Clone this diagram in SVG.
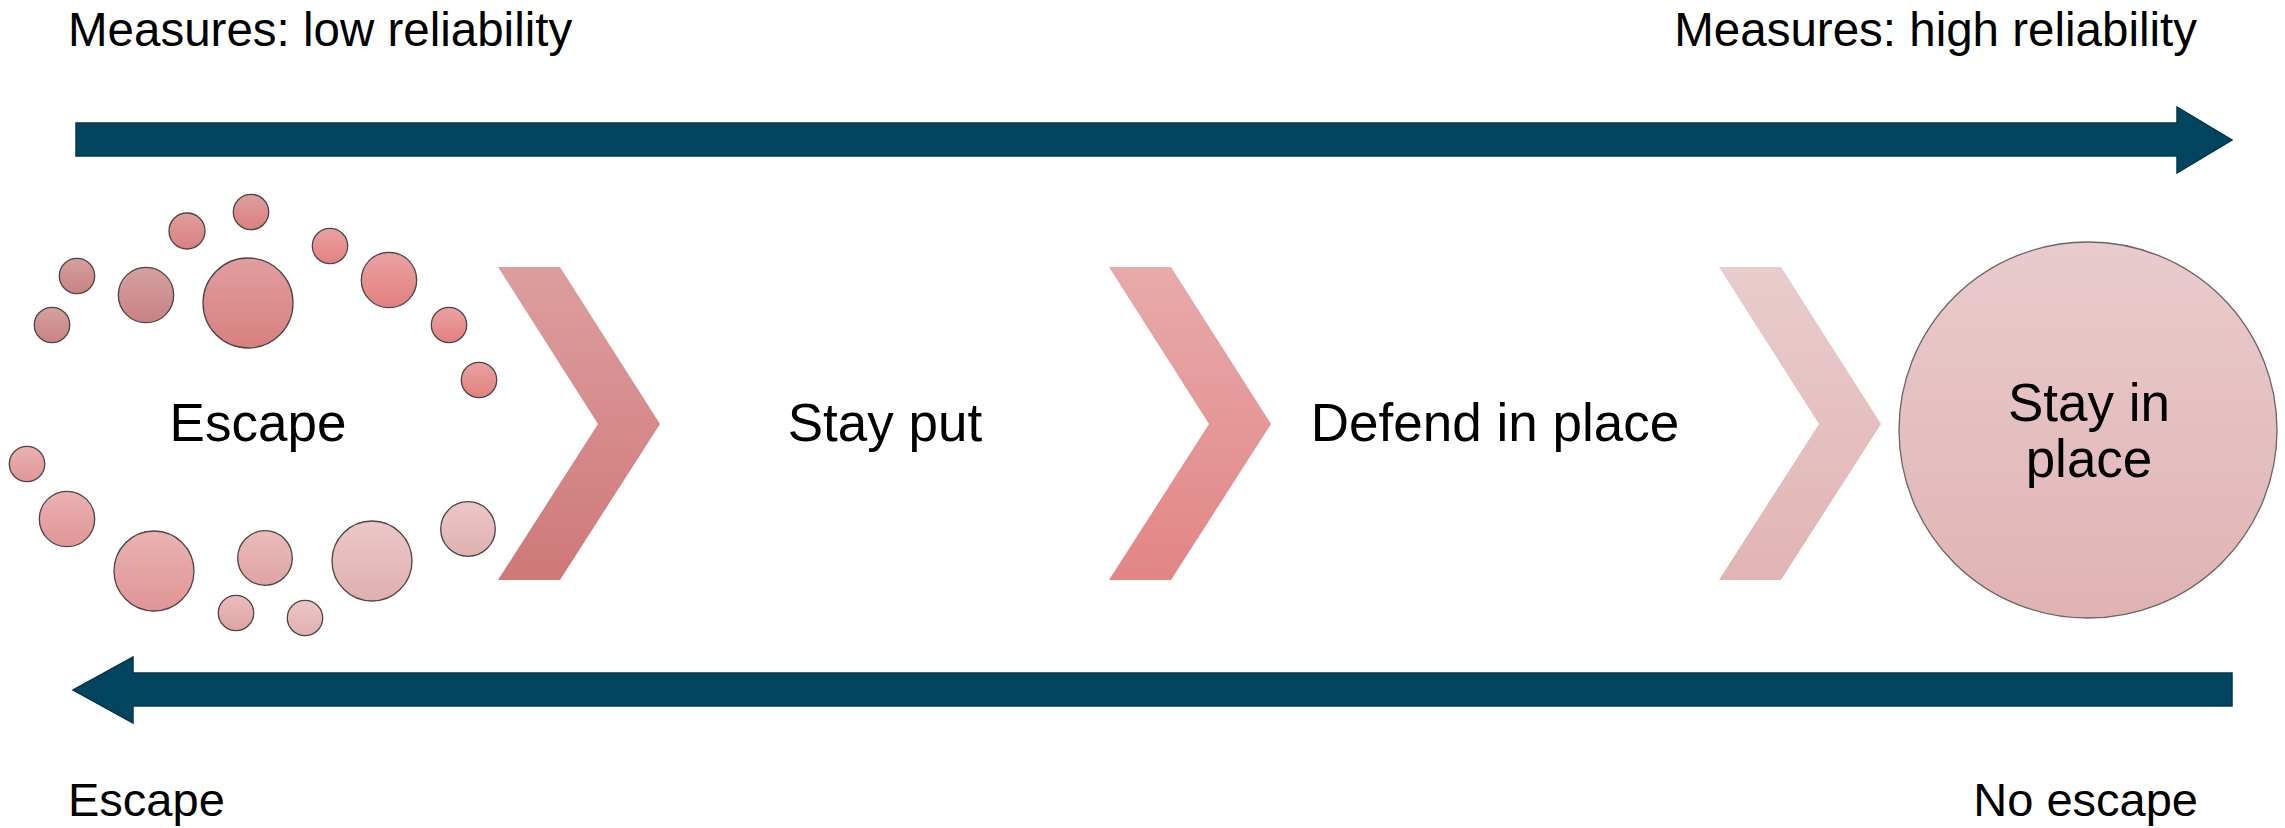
<svg xmlns="http://www.w3.org/2000/svg" width="2285" height="828" viewBox="0 0 2285 828">
<style>
text{font-family:"Liberation Sans",Arial,sans-serif;fill:#000}
.lbl{font-size:47.5px}
.lb2{font-size:47px}
.mid{font-size:53px;text-anchor:middle}
.dot{stroke:#4e4444;stroke-width:1.3}
.bar{fill:#03445f;stroke:#02384f;stroke-width:1.5}
</style>
<defs>
<linearGradient id="gA" x1="0" y1="0" x2="0" y2="1"><stop offset="0" stop-color="#d6a0a0"/><stop offset="1" stop-color="#c98282"/></linearGradient>
<linearGradient id="gB" x1="0" y1="0" x2="0" y2="1"><stop offset="0" stop-color="#e09e9e"/><stop offset="1" stop-color="#d98080"/></linearGradient>
<linearGradient id="gC" x1="0" y1="0" x2="0" y2="1"><stop offset="0" stop-color="#eaa2a2"/><stop offset="1" stop-color="#e28080"/></linearGradient>
<linearGradient id="gD" x1="0" y1="0" x2="0" y2="1"><stop offset="0" stop-color="#ebb2b2"/><stop offset="1" stop-color="#e09595"/></linearGradient>
<linearGradient id="gE" x1="0" y1="0" x2="0" y2="1"><stop offset="0" stop-color="#ebbcbc"/><stop offset="1" stop-color="#dfa3a3"/></linearGradient>
<linearGradient id="gF" x1="0" y1="0" x2="0" y2="1"><stop offset="0" stop-color="#ecc7c7"/><stop offset="1" stop-color="#dfb0b0"/></linearGradient>
<linearGradient id="ch1" x1="0" y1="0" x2="0" y2="1"><stop offset="0" stop-color="#dd9e9e"/><stop offset="1" stop-color="#cf7878"/></linearGradient>
<linearGradient id="ch2" x1="0" y1="0" x2="0" y2="1"><stop offset="0" stop-color="#e8aaaa"/><stop offset="1" stop-color="#e28585"/></linearGradient>
<linearGradient id="ch3" x1="0" y1="0" x2="0" y2="1"><stop offset="0" stop-color="#e9cccd"/><stop offset="1" stop-color="#e1b4b4"/></linearGradient>
<linearGradient id="big" x1="0" y1="0" x2="0" y2="1"><stop offset="0" stop-color="#e9cbcd"/><stop offset="1" stop-color="#e0b3b3"/></linearGradient>
</defs>

<g id="labels">
<text class="lbl" x="68" y="46">Measures: low reliability</text>
<text class="lbl" x="2197" y="46" text-anchor="end">Measures: high reliability</text>
<text class="lb2" x="68" y="816">Escape</text>
<text class="lb2" x="2198" y="816" text-anchor="end">No escape</text>
</g>

<g id="connectors">
<polygon class="bar" points="76,123 2177,123 2177,107 2232,140 2177,173 2177,156 76,156"/>
<polygon class="bar" points="2232,673 133,673 133,657 73,690 133,723 133,706 2232,706"/>
</g>

<g id="escape">
<circle class="dot" cx="251" cy="212" r="17.7" fill="url(#gB)"/>
<circle class="dot" cx="187" cy="231" r="18" fill="url(#gB)"/>
<circle class="dot" cx="330" cy="246" r="17.7" fill="url(#gC)"/>
<circle class="dot" cx="77" cy="276" r="17.7" fill="url(#gA)"/>
<circle class="dot" cx="146" cy="295" r="27.7" fill="url(#gA)"/>
<circle class="dot" cx="248" cy="303" r="45" fill="url(#gB)"/>
<circle class="dot" cx="389" cy="280" r="27.7" fill="url(#gC)"/>
<circle class="dot" cx="52" cy="325" r="17.7" fill="url(#gA)"/>
<circle class="dot" cx="449" cy="325" r="17.7" fill="url(#gC)"/>
<circle class="dot" cx="479" cy="380" r="17.7" fill="url(#gC)"/>
<circle class="dot" cx="27" cy="464" r="17.7" fill="url(#gD)"/>
<circle class="dot" cx="67" cy="519" r="27.7" fill="url(#gD)"/>
<circle class="dot" cx="154" cy="571" r="40" fill="url(#gD)"/>
<circle class="dot" cx="265" cy="558" r="27.3" fill="url(#gE)"/>
<circle class="dot" cx="372" cy="561" r="40" fill="url(#gF)"/>
<circle class="dot" cx="468" cy="529" r="27.3" fill="url(#gF)"/>
<circle class="dot" cx="236" cy="613" r="17.7" fill="url(#gE)"/>
<circle class="dot" cx="305" cy="618" r="17.7" fill="url(#gF)"/>
<text class="mid" x="258" y="441">Escape</text>
</g>

<g id="chevron1"><polygon points="498,267 560,267 660,424 560,580 498,580 598,424" fill="url(#ch1)"/></g>
<g id="stay-put"><text class="mid" x="885" y="441">Stay put</text></g>
<g id="chevron2"><polygon points="1109,267 1171,267 1271,424 1171,580 1109,580 1209,424" fill="url(#ch2)"/></g>
<g id="defend"><text class="mid" x="1495" y="441">Defend in place</text></g>
<g id="chevron3"><polygon points="1719,267 1781,267 1881,424 1781,580 1719,580 1819,424" fill="url(#ch3)"/></g>

<g id="stay-in-place">
<ellipse cx="2088" cy="430" rx="189" ry="188" fill="url(#big)" stroke="#6e6464" stroke-width="1.3"/>
<text class="mid" x="2089" y="421">Stay in</text>
<text class="mid" x="2089" y="477">place</text>
</g>
</svg>
